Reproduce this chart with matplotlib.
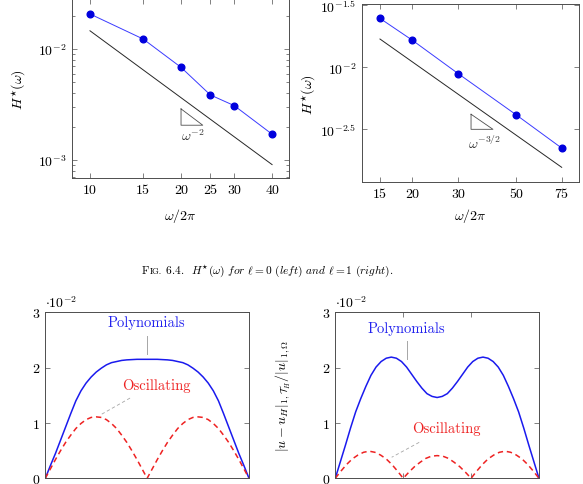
import matplotlib
matplotlib.use('Agg')
from matplotlib import pyplot as plt
from matplotlib.ticker import LogLocator, NullLocator, NullFormatter

# H*(omega) data, l = 0
w0 = [10, 15, 20, 25, 30, 40]
h0 = [0.0207, 0.0123, 0.00684, 0.00386, 0.00309, 0.00171]
ref0_x = [10, 40]
ref0_y = [0.0146, 0.00091]
tri0_x = [20, 20, 23.6, 20]
tri0_y = [0.00289, 0.00206, 0.00206, 0.00289]

# H*(omega) data, l = 1
w1 = [15, 20, 30, 50, 75]
h1 = [0.0248, 0.0165, 0.00888, 0.00415, 0.00223]
ref1_x = [15, 75]
ref1_y = [0.0169, 0.00156]
tri1_x = [33.6, 33.6, 40.8, 33.6]
tri1_y = [0.00418, 0.00316, 0.00316, 0.00418]

# error curves (x 1e-2)
t_a = [i / 40 for i in range(41)]
poly_a = [0, 0.23, 0.45, 0.69, 0.93, 1.17, 1.40, 1.58, 1.72, 1.83, 1.92, 1.99, 2.05,
          2.09, 2.11, 2.13, 2.14, 2.145, 2.15, 2.15, 2.15, 2.15, 2.15, 2.145, 2.14,
          2.13, 2.11, 2.09, 2.05, 1.99, 1.92, 1.83, 1.72, 1.58, 1.40, 1.17, 0.93,
          0.69, 0.45, 0.23, 0]
osc_a = [0, 0.17, 0.34, 0.50, 0.65, 0.78, 0.90, 0.99, 1.06, 1.10, 1.11, 1.10, 1.06,
         0.99, 0.90, 0.78, 0.65, 0.50, 0.34, 0.17, 0, 0.17, 0.34, 0.50, 0.65, 0.78,
         0.90, 0.99, 1.06, 1.10, 1.11, 1.10, 1.06, 0.99, 0.90, 0.78, 0.65, 0.50,
         0.34, 0.17, 0]
poly_b = [0, 0.30, 0.60, 0.91, 1.20, 1.44, 1.66, 1.86, 2.01, 2.11, 2.17, 2.19, 2.17,
          2.11, 2.01, 1.88, 1.75, 1.63, 1.53, 1.48, 1.46, 1.48, 1.53, 1.63, 1.75,
          1.88, 2.01, 2.11, 2.17, 2.19, 2.17, 2.11, 2.01, 1.86, 1.66, 1.44, 1.20,
          0.91, 0.60, 0.30, 0]
t_b = [i / 36 for i in range(37)]
osc_b = [0, 0.13, 0.25, 0.35, 0.42, 0.47, 0.49, 0.47, 0.42, 0.35, 0.25, 0.13, 0,
         0.11, 0.21, 0.29, 0.36, 0.40, 0.41, 0.40, 0.36, 0.29, 0.21, 0.11, 0,
         0.13, 0.25, 0.35, 0.42, 0.47, 0.49, 0.47, 0.42, 0.35, 0.25, 0.13, 0]

plt.rcParams['font.family'] = ['cmr10', 'DejaVu Serif']
plt.rcParams['mathtext.fontset'] = 'cm'
plt.rcParams['axes.unicode_minus'] = False
plt.rcParams['axes.formatter.use_mathtext'] = True

FS = 10
AFS = 10.5
frame = '0.3'

fig = plt.figure(figsize=(5.83, 4.85), dpi=100)
ax1 = fig.add_axes([0.1235, 0.6309, 0.3722, 0.369])
ax2 = fig.add_axes([0.6209, 0.6227, 0.3722, 0.366])
ax3 = fig.add_axes([0.0777, 0.01175, 0.3494, 0.3423])
ax4 = fig.add_axes([0.5751, 0.01175, 0.3494, 0.3423])

for ax in (ax1, ax2, ax3, ax4):
    for s in ax.spines.values():
        s.set_color(frame)
        s.set_linewidth(0.7)
    ax.tick_params(which='both', direction='in', top=True, right=True,
                   color=frame, labelsize=FS, width=0.5)
    ax.tick_params(which='major', length=3.5, pad=4)
    ax.tick_params(which='minor', length=2)

# top left
ax1.set_xscale('log')
ax1.set_yscale('log')
ax1.plot(w0, h0, color='#3a3aff', lw=0.7, marker='o', ms=4.8,
         mfc='#0000dd', mec='#0000dd')
ax1.plot(ref0_x, ref0_y, color='0.15', lw=0.7)
ax1.plot(tri0_x, tri0_y, color='0.3', lw=0.6)
ax1.text(21.8, 0.00166, r'$\omega^{-2}$', fontsize=FS, ha='center', va='center', color='0.2')
ax1.set_xlim(8.72, 45.5)
ax1.set_ylim(6.89e-4, 0.0282)
ax1.set_xticks(w0)
ax1.set_xticklabels([str(v) for v in w0])
ax1.xaxis.set_minor_locator(NullLocator())
ax1.set_yticks([1e-3, 1e-2])
ax1.set_yticklabels([r'$10^{-3}$', r'$10^{-2}$'])
ax1.yaxis.set_minor_locator(LogLocator(subs=range(2, 10)))
ax1.yaxis.set_minor_formatter(NullFormatter())
ax1.set_xlabel(r'$\omega/2\pi$', fontsize=FS)
ax1.set_ylabel(r'$H^{\star}(\omega)$', fontsize=FS)
ax1.xaxis.set_label_coords(0.5, -0.155)
ax1.yaxis.set_label_coords(-0.205, 0.5)

# top right
ax2.set_xscale('log')
ax2.set_yscale('log')
ax2.plot(w1, h1, color='#3a3aff', lw=0.7, marker='o', ms=4.8,
         mfc='#0000dd', mec='#0000dd')
ax2.plot(ref1_x, ref1_y, color='0.15', lw=0.7)
ax2.plot(tri1_x, tri1_y, color='0.3', lw=0.6)
ax2.text(38.0, 0.00247, r'$\omega^{-3/2}$', fontsize=FS, ha='center', va='center', color='0.2')
ax2.set_xlim(12.79, 87.4)
ax2.set_ylim(1.188e-3, 0.0321)
ax2.set_xticks(w1)
ax2.set_xticklabels([str(v) for v in w1])
ax2.xaxis.set_minor_locator(NullLocator())
ax2.set_yticks([10 ** -2.5, 1e-2, 10 ** -1.5])
ax2.set_yticklabels([r'$10^{-2.5}$', r'$10^{-2}$', r'$10^{-1.5}$'])
ax2.yaxis.set_minor_locator(NullLocator())
ax2.set_xlabel(r'$\omega/2\pi$', fontsize=FS)
ax2.set_ylabel(r'$H^{\star}(\omega)$', fontsize=FS)
ax2.xaxis.set_label_coords(0.5, -0.135)
ax2.yaxis.set_label_coords(-0.205, 0.5)

# bottom plots
ylab = r'$|u-u_H|_{1,\mathcal{T}_H}/|u|_{1,\Omega}$'
for ax in (ax3, ax4):
    ax.set_xlim(0, 1)
    ax.set_ylim(0, 3)
    ax.set_yticks([0, 1, 2, 3])
    ax.set_yticklabels(['0', '1', '2', '3'])
    ax.text(0.0, 1.012, r'$\cdot 10^{-2}$', transform=ax.transAxes, fontsize=FS,
            ha='left', va='bottom')
    ax.set_ylabel(ylab, fontsize=FS)
    ax.yaxis.set_label_coords(-0.213, 0.5)

ax3.plot(t_a, poly_a, color='#1a1aee', lw=1.1)
ax3.plot(t_a, osc_a, color='#ee2222', lw=1.1, ls=(0, (3.5, 2.5)))
ax3.set_xticks([])
ax3.text(0.498, 2.82, 'Polynomials', color='#2222ee', fontsize=AFS, ha='center', va='center')
ax3.plot([0.5, 0.5], [2.58, 2.25], color='0.65', lw=0.7)
ax3.text(0.543, 1.68, 'Oscillating', color='#ee2222', fontsize=AFS, ha='center', va='center')
ax3.plot([0.416, 0.268], [1.45, 1.14], color='0.65', lw=0.6, ls=(0, (4, 3)))

ax4.plot(t_a, poly_b, color='#1a1aee', lw=1.1)
ax4.plot(t_b, osc_b, color='#ee2222', lw=1.1, ls=(0, (3.5, 2.5)))
ax4.set_xticks([1 / 3, 2 / 3])
ax4.set_xticklabels(['', ''])
ax4.text(0.35, 2.72, 'Polynomials', color='#2222ee', fontsize=AFS, ha='center', va='center')
ax4.plot([0.35, 0.35], [2.48, 2.16], color='0.65', lw=0.7)
ax4.text(0.543, 0.91, 'Oscillating', color='#ee2222', fontsize=AFS, ha='center', va='center')
ax4.plot([0.412, 0.277], [0.65, 0.38], color='0.65', lw=0.6, ls=(0, (4, 3)))

# caption with small caps "FIG."
fig.canvas.draw()
r = fig.canvas.get_renderer()
cy = 1 - 274 / 485
x0 = 142 / 583
parts = [('F', 8.2), ('IG.', 6.3),
         (r' 6.4.  $H^{\star}(\omega)$ $\mathit{for}$ $\ell = 0$ $\mathit{(left)}$ '
          r'$\mathit{and}$ $\ell = 1$ $\mathit{(right)}$.', 8.2)]
for s, fs in parts:
    t = fig.text(x0, cy, s, fontsize=fs, ha='left', va='baseline')
    bb = t.get_window_extent(renderer=r)
    x0 += bb.width / fig.bbox.width

fig.savefig('out.png', dpi=100)
